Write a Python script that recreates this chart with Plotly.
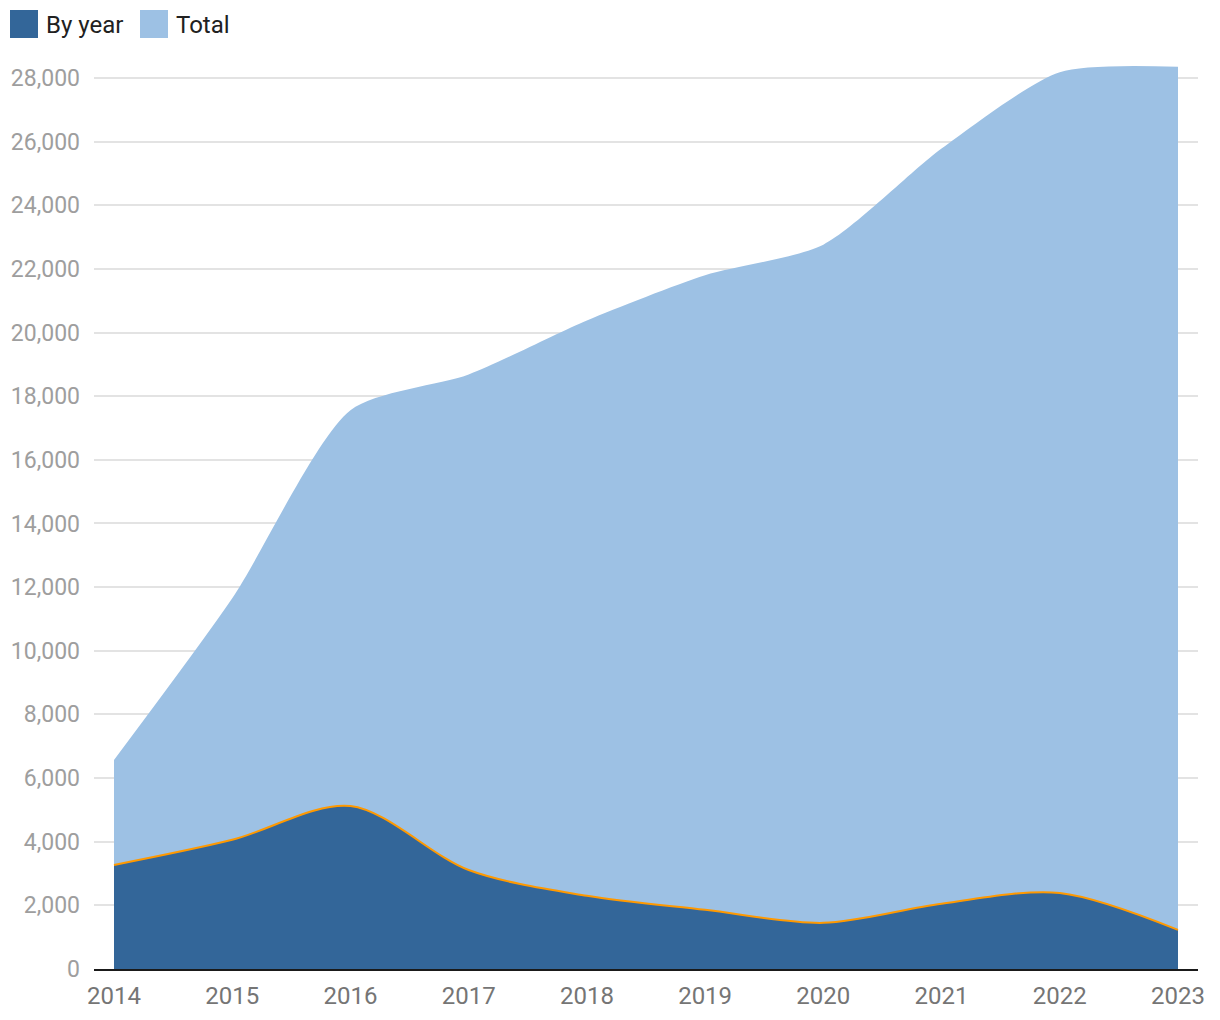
import plotly.graph_objects as go

years = [2014, 2015, 2016, 2017, 2018, 2019, 2020, 2021, 2022, 2023]
by_year = [3270, 4060, 5120, 3110, 2300, 1860, 1450, 2050, 2390, 1230]
total = [6570, 11650, 17560, 18680, 20380, 21800, 22760, 25780, 28180, 28350]
y_ticks = list(range(0, 28001, 2000))
y_tick_labels = [f"{v:,}" for v in y_ticks]

DARK = "#336699"
LIGHT = "#9dc1e4"
ORANGE = "#ff9900"

fig = go.Figure()
fig.add_trace(go.Scatter(x=years, y=total, mode="lines", fill="tozeroy",
                         fillcolor=LIGHT, line=dict(color=LIGHT, width=0, shape="spline", smoothing=0.7),
                         name="Total", showlegend=False, hoverinfo="x+y"))
fig.add_trace(go.Scatter(x=years, y=by_year, mode="lines", fill="tozeroy",
                         fillcolor=DARK, line=dict(color=ORANGE, width=2, shape="spline", smoothing=0.9),
                         name="By year", showlegend=False, hoverinfo="x+y"))

# legend drawn manually
legend_items = [("By year", DARK, 10, 46), ("Total", LIGHT, 140, 176)]
shapes = []
annotations = []
for label, col, x0, tx in legend_items:
    shapes.append(dict(type="rect", xref="paper", yref="paper",
                       x0=(x0 - 94) / 1104, x1=(x0 + 28 - 94) / 1104,
                       y0=(969 - 38) / 907, y1=(969 - 10) / 907,
                       fillcolor=col, line=dict(width=0), layer="above"))
    annotations.append(dict(text=label, xref="paper", yref="paper",
                            x=(tx - 94 - 2) / 1104, y=(969 - 25) / 907,
                            xanchor="left", yanchor="middle", showarrow=False,
                            font=dict(size=24, color="#212121", family="Roboto")))

fig.update_layout(
    width=1220, height=1020,
    margin=dict(l=94, r=22, t=62, b=51),
    paper_bgcolor="white", plot_bgcolor="white",
    font=dict(family="Roboto"),
    shapes=shapes, annotations=annotations,
    xaxis=dict(range=[2014 - 20 / 118.2, 2023 + 20 / 118.2], tickvals=years,
               ticktext=[str(y) for y in years], showgrid=False,
               showline=True, linecolor="#1a1a1a", linewidth=2,
               ticks="", ticklabelstandoff=4, automargin=False,
               tickfont=dict(size=24, color="#757575"), zeroline=False),
    yaxis=dict(range=[0, 28500], tickvals=y_ticks, ticktext=y_tick_labels,
               showgrid=True, gridcolor="#e3e3e3", gridwidth=1.5, zeroline=False,
               ticks="", ticklabelstandoff=13, automargin=False,
               tickfont=dict(size=23, color="#9e9e9e")),
)

fig.write_html("out.html")
